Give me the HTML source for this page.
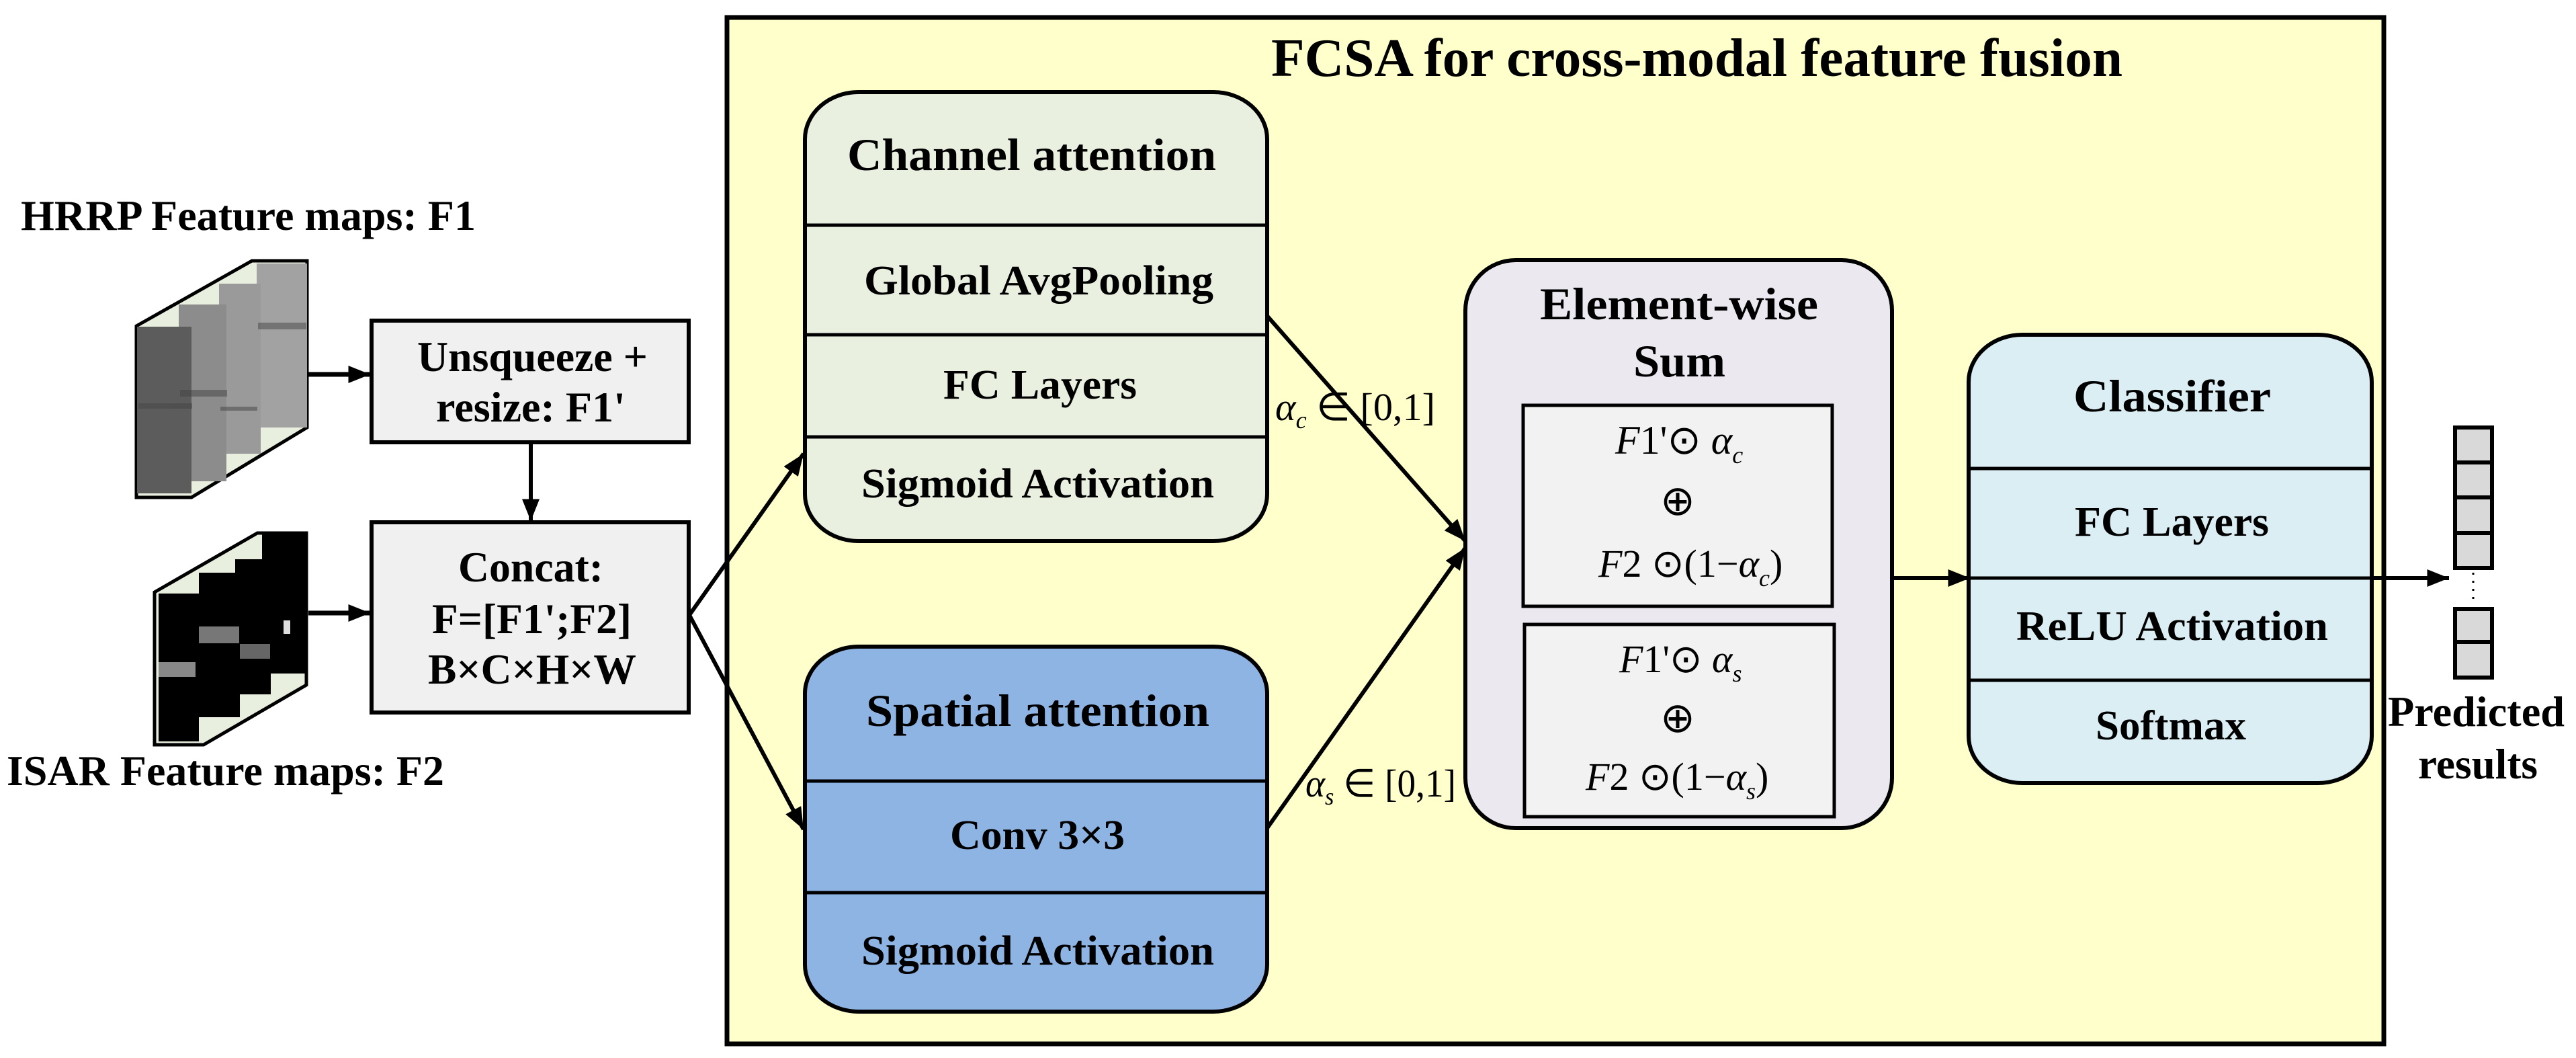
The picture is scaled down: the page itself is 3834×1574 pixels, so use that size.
<!DOCTYPE html>
<html><head><meta charset="utf-8"><style>html,body{margin:0;padding:0;background:#fff}svg{display:block}</style></head><body>
<svg width="3834" height="1574" viewBox="0 0 3834 1574" xmlns="http://www.w3.org/2000/svg" font-family="'Liberation Serif', serif">
<defs>
<marker id="ah" markerWidth="34" markerHeight="26" refX="10" refY="4" orient="auto" markerUnits="userSpaceOnUse" viewBox="0 0 10 8"><path d="M0,0 L10,4 L0,8 z" fill="#000"/></marker>
</defs>
<!-- yellow container -->
<rect x="1082" y="26" width="2466" height="1527" fill="#ffffcc" stroke="#000" stroke-width="7"/>
<text x="1892" y="113" font-size="80" font-weight="bold" textLength="1267" lengthAdjust="spacingAndGlyphs">FCSA for cross-modal feature fusion</text>

<!-- left labels -->
<text x="31" y="342" font-size="64" font-weight="bold" textLength="677" lengthAdjust="spacingAndGlyphs">HRRP Feature maps: F1</text>
<text x="10" y="1168" font-size="64" font-weight="bold" textLength="651" lengthAdjust="spacingAndGlyphs">ISAR Feature maps: F2</text>

<!-- HRRP stack -->
<polygon points="203,485 375,388 457,388 457,636 285,740 203,740" fill="#e8efdf" stroke="#000" stroke-width="5"/>
<rect x="382" y="392" width="75" height="244" fill="#a2a2a2"/>
<rect x="326" y="422" width="62" height="253" fill="#9a9a9a"/>
<rect x="266" y="453" width="71" height="263" fill="#8c8c8c"/>
<rect x="204" y="486" width="81" height="248" fill="#5c5c5c"/>
<g fill="#444" opacity="0.5">
<rect x="206" y="600" width="80" height="8"/>
<rect x="268" y="580" width="70" height="10"/>
<rect x="328" y="605" width="55" height="6"/>
<rect x="384" y="480" width="72" height="10"/>
</g>

<!-- ISAR stack -->
<polygon points="230,881 383,793 456,793 456,1019 303,1108 230,1108" fill="#e8efdf" stroke="#000" stroke-width="5"/>
<rect x="390" y="793" width="66" height="209" fill="#000"/>
<rect x="350" y="832" width="53" height="201" fill="#000"/>
<rect x="296" y="852" width="61" height="215" fill="#000"/>
<rect x="236" y="883" width="60" height="220" fill="#000"/>
<rect x="296" y="932" width="60" height="25" fill="#777"/>
<rect x="357" y="958" width="45" height="22" fill="#666"/>
<rect x="236" y="985" width="55" height="22" fill="#888"/>
<rect x="422" y="923" width="10" height="20" fill="#ddd"/>

<!-- left arrows -->
<line x1="459" y1="557" x2="551" y2="557" stroke="#000" stroke-width="7" marker-end="url(#ah)"/>
<line x1="459" y1="912" x2="551" y2="912" stroke="#000" stroke-width="7" marker-end="url(#ah)"/>
<line x1="790" y1="658" x2="790" y2="775" stroke="#000" stroke-width="6" marker-end="url(#ah)"/>

<!-- unsqueeze / concat -->
<rect x="553" y="477" width="472" height="181" fill="#f0f0f0" stroke="#000" stroke-width="6"/>
<text x="621" y="552" font-size="64" font-weight="bold" textLength="343" lengthAdjust="spacingAndGlyphs">Unsqueeze +</text>
<text x="649" y="627" font-size="64" font-weight="bold" textLength="282" lengthAdjust="spacingAndGlyphs">resize: F1'</text>
<rect x="553" y="777" width="472" height="283" fill="#f0f0f0" stroke="#000" stroke-width="6"/>
<text x="682" y="865" font-size="64" font-weight="bold" textLength="216" lengthAdjust="spacingAndGlyphs">Concat:</text>
<text x="643" y="942" font-size="64" font-weight="bold" textLength="297" lengthAdjust="spacingAndGlyphs">F=[F1';F2]</text>
<text x="637" y="1017" font-size="64" font-weight="bold" textLength="310" lengthAdjust="spacingAndGlyphs">B×C×H×W</text>

<!-- arrows from concat -->
<line x1="1026" y1="915" x2="1196" y2="675" stroke="#000" stroke-width="6" marker-end="url(#ah)"/>
<line x1="1026" y1="915" x2="1196" y2="1234" stroke="#000" stroke-width="6" marker-end="url(#ah)"/>

<!-- channel attention -->
<rect x="1198" y="137" width="688" height="668" rx="80" ry="70" fill="#e9f0e0" stroke="#000" stroke-width="6"/>
<line x1="1198" y1="335" x2="1886" y2="335" stroke="#000" stroke-width="5"/>
<line x1="1198" y1="498" x2="1886" y2="498" stroke="#000" stroke-width="5"/>
<line x1="1198" y1="650" x2="1886" y2="650" stroke="#000" stroke-width="5"/>
<text x="1261" y="253" font-size="68" font-weight="bold" textLength="549" lengthAdjust="spacingAndGlyphs">Channel attention</text>
<text x="1286" y="438" font-size="62" font-weight="bold" textLength="520" lengthAdjust="spacingAndGlyphs">Global AvgPooling</text>
<text x="1404" y="593" font-size="62" font-weight="bold" textLength="288" lengthAdjust="spacingAndGlyphs">FC Layers</text>
<text x="1282" y="740" font-size="62" font-weight="bold" textLength="525" lengthAdjust="spacingAndGlyphs">Sigmoid Activation</text>

<!-- spatial attention -->
<rect x="1198" y="962" width="688" height="543" rx="80" ry="70" fill="#8eb4e3" stroke="#000" stroke-width="6"/>
<line x1="1198" y1="1162" x2="1886" y2="1162" stroke="#000" stroke-width="5"/>
<line x1="1198" y1="1328" x2="1886" y2="1328" stroke="#000" stroke-width="5"/>
<text x="1289" y="1080" font-size="68" font-weight="bold" textLength="511" lengthAdjust="spacingAndGlyphs">Spatial attention</text>
<text x="1414" y="1263" font-size="62" font-weight="bold" textLength="260" lengthAdjust="spacingAndGlyphs">Conv 3×3</text>
<text x="1282" y="1435" font-size="62" font-weight="bold" textLength="525" lengthAdjust="spacingAndGlyphs">Sigmoid Activation</text>

<!-- arrows to element sum -->
<line x1="1886" y1="470" x2="2181" y2="805" stroke="#000" stroke-width="6" marker-end="url(#ah)"/>
<line x1="1886" y1="1232" x2="2181" y2="815" stroke="#000" stroke-width="6" marker-end="url(#ah)"/>
<text x="1898" y="625" font-size="58" font-style="italic" textLength="238" lengthAdjust="spacingAndGlyphs">α<tspan font-size="36" dy="12">c</tspan><tspan font-style="normal" dy="-12"> ∈ [0,1]</tspan></text>
<text x="1943" y="1185" font-size="58" font-style="italic" textLength="224" lengthAdjust="spacingAndGlyphs">α<tspan font-size="36" dy="12">s</tspan><tspan font-style="normal" dy="-12"> ∈ [0,1]</tspan></text>

<!-- element-wise sum -->
<rect x="2181" y="387" width="635" height="845" rx="75" ry="75" fill="#ebe8f0" stroke="#000" stroke-width="6"/>
<text x="2292" y="475" font-size="68" font-weight="bold" textLength="414" lengthAdjust="spacingAndGlyphs">Element-wise</text>
<text x="2431" y="560" font-size="68" font-weight="bold" textLength="137" lengthAdjust="spacingAndGlyphs">Sum</text>
<rect x="2267" y="603" width="460" height="299" fill="#f2f2f2" stroke="#000" stroke-width="5"/>
<rect x="2269" y="929" width="461" height="286" fill="#f2f2f2" stroke="#000" stroke-width="5"/>
<text x="2404" y="675" font-size="60"><tspan font-style="italic">F</tspan>1'⊙ <tspan font-style="italic">α</tspan><tspan font-size="36" font-style="italic" dy="14">c</tspan></text>
<text x="2497" y="766" font-size="62" text-anchor="middle">⊕</text>
<text x="2379" y="858" font-size="58"><tspan font-style="italic">F</tspan>2 ⊙(1−<tspan font-style="italic">α</tspan><tspan font-size="36" font-style="italic" dy="14">c</tspan><tspan dy="-14">)</tspan></text>
<text x="2410" y="1000" font-size="58"><tspan font-style="italic">F</tspan>1'⊙ <tspan font-style="italic">α</tspan><tspan font-size="36" font-style="italic" dy="14">s</tspan></text>
<text x="2497" y="1089" font-size="62" text-anchor="middle">⊕</text>
<text x="2360" y="1175" font-size="58"><tspan font-style="italic">F</tspan>2 ⊙(1−<tspan font-style="italic">α</tspan><tspan font-size="36" font-style="italic" dy="14">s</tspan><tspan dy="-14">)</tspan></text>

<!-- classifier -->
<rect x="2930" y="498" width="600" height="667" rx="80" ry="70" fill="#dbeef4" stroke="#000" stroke-width="6"/>
<line x1="2930" y1="697" x2="3530" y2="697" stroke="#000" stroke-width="5"/>
<line x1="2930" y1="1012" x2="3530" y2="1012" stroke="#000" stroke-width="5"/>
<text x="3086" y="612" font-size="68" font-weight="bold" textLength="294" lengthAdjust="spacingAndGlyphs">Classifier</text>
<text x="3088" y="797" font-size="62" font-weight="bold" textLength="289" lengthAdjust="spacingAndGlyphs">FC Layers</text>
<text x="3001" y="952" font-size="62" font-weight="bold" textLength="464" lengthAdjust="spacingAndGlyphs">ReLU Activation</text>
<text x="3119" y="1100" font-size="62" font-weight="bold" textLength="224" lengthAdjust="spacingAndGlyphs">Softmax</text>

<!-- arrows sum->classifier->output -->
<line x1="2816" y1="860" x2="2932" y2="860" stroke="#000" stroke-width="6" marker-end="url(#ah)"/>
<line x1="2930" y1="860" x2="3530" y2="860" stroke="#000" stroke-width="5"/>
<line x1="3530" y1="860" x2="3645" y2="860" stroke="#000" stroke-width="6" marker-end="url(#ah)"/>

<!-- output vector -->
<g fill="#d9d9d9" stroke="#000" stroke-width="6">
<rect x="3654" y="636" width="55" height="52"/>
<rect x="3654" y="688" width="55" height="52"/>
<rect x="3654" y="740" width="55" height="53"/>
<rect x="3654" y="793" width="55" height="52"/>
<rect x="3654" y="906" width="55" height="49"/>
<rect x="3654" y="955" width="55" height="53"/>
</g>
<line x1="3681" y1="852" x2="3681" y2="898" stroke="#000" stroke-width="3" stroke-dasharray="3,9"/>
<text x="3554" y="1080" font-size="64" font-weight="bold" textLength="263" lengthAdjust="spacingAndGlyphs">Predicted</text>
<text x="3599" y="1158" font-size="64" font-weight="bold" textLength="178" lengthAdjust="spacingAndGlyphs">results</text>
</svg>
</body></html>
